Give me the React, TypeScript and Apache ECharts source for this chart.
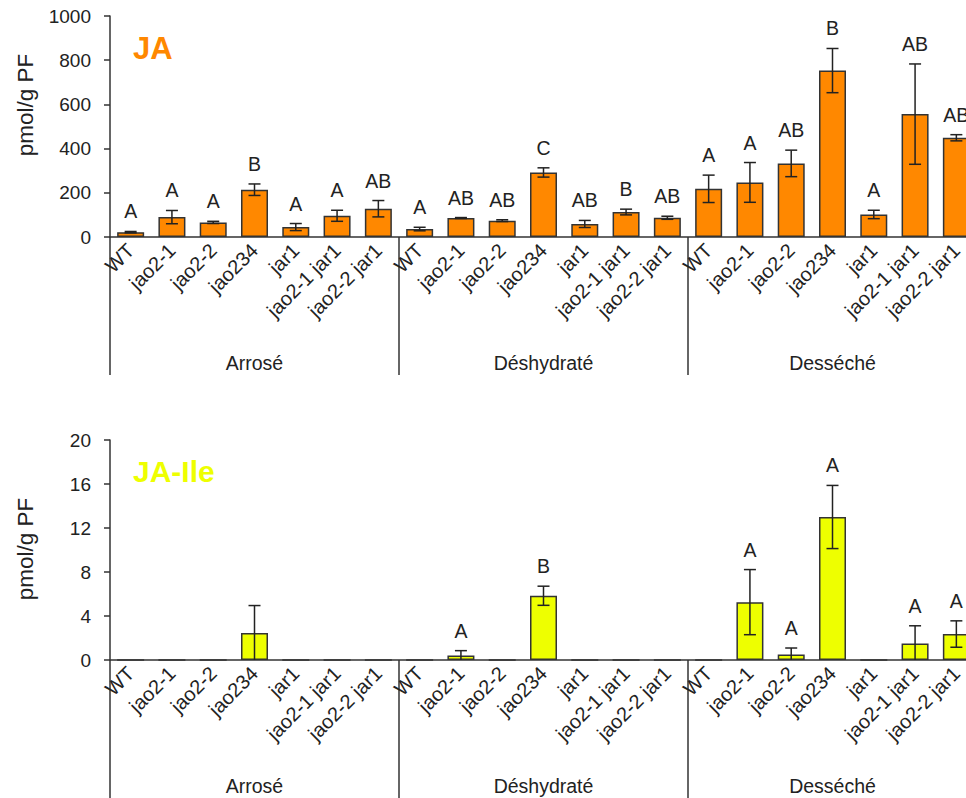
import React, { useEffect, useRef } from "react";
import * as echarts from "echarts";

const genotypes = ["WT", "jao2-1", "jao2-2", "jao234", "jar1", "jao2-1 jar1", "jao2-2 jar1"];
const groups = ["Arrosé", "Déshydraté", "Desséché"];
const xLabels = groups.flatMap(() => genotypes);

const jaValues = [22, 90, 66, 214, 45, 96, 128, 36, 86, 74, 292, 59, 113, 87, 218, 247, 333, 753, 102, 556, 449];
const jaErrors = [3, 30, 5, 26, 16, 25, 37, 8, 2, 4, 21, 16, 13, 7, 62, 90, 60, 100, 19, 227, 14];
const jaLetters = ["A", "A", "A", "B", "A", "A", "AB", "A", "AB", "AB", "C", "AB", "B", "AB", "A", "A", "AB", "B", "A", "AB", "AB"];

const ileValues = [0, 0, 0, 2.45, 0, 0, 0, 0, 0.4, 0, 5.84, 0, 0, 0, 0, 5.26, 0.51, 13.0, 0, 1.51, 2.36];
const ileErrors = [0, 0, 0, 2.5, 0, 0, 0, 0, 0.45, 0, 0.87, 0, 0, 0, 0, 2.96, 0.58, 2.87, 0, 1.6, 1.2];
const ileLetters = ["", "", "", "", "", "", "", "", "A", "", "B", "", "", "", "", "A", "A", "A", "", "A", "A"];

const FONT = "'Liberation Sans', Arial, Helvetica, sans-serif";
const TXT = "#222";
const AX = "#333";

function errSeries(values: number[], errors: number[], letters: string[], xIdx: number, yIdx: number) {
  return {
    type: "custom",
    xAxisIndex: xIdx,
    yAxisIndex: yIdx,
    clip: false,
    z: 5,
    data: values.map((v, i) => [i, v, errors[i]]),
    renderItem: (params: any, api: any) => {
      const i = api.value(0);
      const v = api.value(1);
      const e = api.value(2);
      const children: any[] = [];
      const top = api.coord([i, v + e]);
      const lowVal = Math.max(0, v - e);
      const low = api.coord([i, lowVal]);
      const st = { stroke: TXT, lineWidth: 1.5 };
      if (e > 0) {
        children.push({ type: "line", shape: { x1: top[0], y1: top[1], x2: low[0], y2: low[1] }, style: st });
        children.push({ type: "line", shape: { x1: top[0] - 6, y1: top[1], x2: top[0] + 6, y2: top[1] }, style: st });
        if (v - e >= 0) {
          children.push({ type: "line", shape: { x1: low[0] - 6, y1: low[1], x2: low[0] + 6, y2: low[1] }, style: st });
        }
      }
      const lab = letters[i];
      if (lab) {
        children.push({
          type: "text",
          x: top[0],
          y: top[1] - 10,
          style: { text: lab, align: "center", verticalAlign: "bottom", fontSize: 19.5, fill: TXT, fontFamily: FONT },
        });
      }
      return { type: "group", children };
    },
  };
}

export default function App() {
  const ref = useRef<HTMLDivElement>(null);
  useEffect(() => {
    if (!ref.current) return;
    const chart = echarts.init(ref.current, null, { renderer: "svg" });
    const grids = [
      { left: 110, top: 16, width: 867, height: 221 },
      { left: 110, top: 440, width: 867, height: 220 },
    ];
    const mainX = (gi: number) => ({
      type: "category",
      gridIndex: gi,
      data: xLabels,
      position: "bottom",
      axisLine: { show: true, lineStyle: { color: AX, width: 1.5 } },
      axisTick: { show: false },
      axisLabel: { rotate: 45, interval: 0, margin: 10, fontSize: 20, color: TXT, fontFamily: FONT },
    });
    const groupX = (gi: number) => ({
      type: "category",
      gridIndex: gi,
      data: groups,
      position: "bottom",
      axisLine: { show: false },
      axisTick: { show: true, length: 138, lineStyle: { color: AX, width: 1.5 } },
      axisLabel: { interval: 0, margin: 116, fontSize: 19.5, color: TXT, fontFamily: FONT, verticalAlign: "top" },
    });
    const yAx = (gi: number, max: number, interval: number) => ({
      type: "value",
      gridIndex: gi,
      min: 0,
      max,
      interval,
      axisLine: { show: true, lineStyle: { color: AX, width: 1.5 } },
      axisTick: { show: true, length: 6, lineStyle: { color: AX, width: 1.5 } },
      splitLine: { show: false },
      axisLabel: { fontSize: 19, color: TXT, fontFamily: FONT, margin: 19, formatter: (v: number) => String(v) },
    });
    chart.setOption({
      animation: false,
      grid: grids,
      xAxis: [mainX(0), groupX(0), mainX(1), groupX(1)],
      yAxis: [yAx(0, 1000, 200), yAx(1, 20, 4)],
      graphic: [
        { type: "text", x: 133, y: 48, style: { text: "JA", fontSize: 31, fontWeight: "bold", fill: "#FF8800", fontFamily: FONT, verticalAlign: "middle" } },
        { type: "text", x: 133, y: 471, style: { text: "JA-Ile", fontSize: 30, fontWeight: "bold", fill: "#EEFF00", fontFamily: FONT, verticalAlign: "middle" } },
        { type: "text", x: 25, y: 105, rotation: Math.PI / 2, style: { text: "pmol/g PF", fontSize: 22.5, fill: TXT, fontFamily: FONT, align: "center", verticalAlign: "middle" } },
        { type: "text", x: 25, y: 549, rotation: Math.PI / 2, style: { text: "pmol/g PF", fontSize: 22.5, fill: TXT, fontFamily: FONT, align: "center", verticalAlign: "middle" } },
      ],
      series: [
        {
          type: "bar",
          xAxisIndex: 0,
          yAxisIndex: 0,
          data: jaValues,
          barWidth: 27,
          itemStyle: { color: "#FF8800", borderColor: AX, borderWidth: 1.5 },
        },
        errSeries(jaValues, jaErrors, jaLetters, 0, 0),
        {
          type: "bar",
          xAxisIndex: 2,
          yAxisIndex: 1,
          data: ileValues,
          barWidth: 27,
          itemStyle: { color: "#EEFF00", borderColor: AX, borderWidth: 1.5 },
        },
        errSeries(ileValues, ileErrors, ileLetters, 2, 1),
      ],
    });
    return () => chart.dispose();
  }, []);
  return (
    <div style={{ position: "fixed", left: 0, top: 0, width: 966, height: 798, overflow: "hidden", background: "#fff" }}>
      <div ref={ref} style={{ width: 1000, height: 798 }} />
    </div>
  );
}
